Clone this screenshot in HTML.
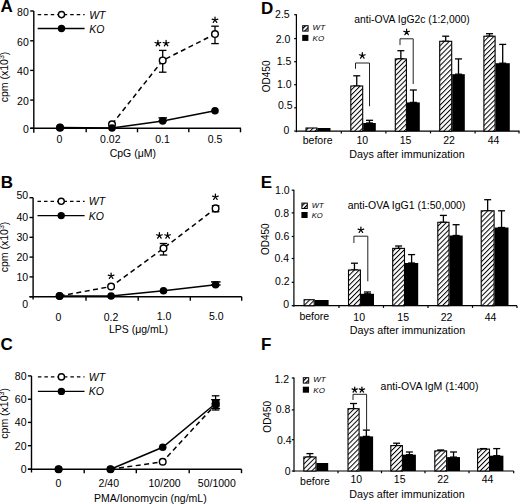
<!DOCTYPE html>
<html><head><meta charset="utf-8"><style>
html,body{margin:0;padding:0;background:#fff;width:520px;height:504px;overflow:hidden}
svg{display:block}
text{font-family:"Liberation Sans", sans-serif;fill:#000}
</style></head><body>
<svg width="520" height="504" viewBox="0 0 520 504">
<defs><pattern id="hatch" patternUnits="userSpaceOnUse" width="3.5" height="3.5" patternTransform="rotate(45)"><rect width="3.5" height="3.5" fill="#fff"/><line x1="0.5" y1="0" x2="0.5" y2="3.5" stroke="#000" stroke-width="1"/></pattern><pattern id="hatch2" patternUnits="userSpaceOnUse" width="3.2" height="3.2" patternTransform="rotate(45)"><rect width="3.2" height="3.2" fill="#fff"/><line x1="0.6" y1="0" x2="0.6" y2="3.2" stroke="#000" stroke-width="1.3"/></pattern></defs>
<rect width="520" height="504" fill="#fff"/>
<text x="0.5" y="12.4" font-size="17" font-weight="bold">A</text>
<line x1="33.8" y1="11" x2="33.8" y2="132.7" stroke="#000" stroke-width="1.4"/>
<line x1="30.2" y1="11" x2="33.8" y2="11" stroke="#000" stroke-width="1.4"/>
<line x1="30.2" y1="40.8" x2="33.8" y2="40.8" stroke="#000" stroke-width="1.4"/>
<line x1="30.2" y1="70.4" x2="33.8" y2="70.4" stroke="#000" stroke-width="1.4"/>
<line x1="30.2" y1="100.1" x2="33.8" y2="100.1" stroke="#000" stroke-width="1.4"/>
<line x1="30.2" y1="128.3" x2="33.8" y2="128.3" stroke="#000" stroke-width="1.4"/>
<text x="28.8" y="16.35" font-size="10.5" text-anchor="end">80</text>
<text x="28.8" y="45.75" font-size="10.5" text-anchor="end">60</text>
<text x="28.8" y="74.95" font-size="10.5" text-anchor="end">40</text>
<text x="28.8" y="105.35" font-size="10.5" text-anchor="end">20</text>
<text x="28.8" y="133.25" font-size="10.5" text-anchor="end">0</text>
<line x1="30.2" y1="128.3" x2="241" y2="128.3" stroke="#000" stroke-width="1.4"/>
<line x1="86.2" y1="128.3" x2="86.2" y2="132.3" stroke="#000" stroke-width="1.4"/>
<line x1="137.5" y1="128.3" x2="137.5" y2="132.3" stroke="#000" stroke-width="1.4"/>
<line x1="188.8" y1="128.3" x2="188.8" y2="132.3" stroke="#000" stroke-width="1.4"/>
<line x1="240.5" y1="128.3" x2="240.5" y2="132.3" stroke="#000" stroke-width="1.4"/>
<text x="59.4" y="143.4" font-size="10.5" text-anchor="middle">0</text>
<text x="110.3" y="143.4" font-size="10.5" text-anchor="middle">0.02</text>
<text x="162.5" y="143.4" font-size="10.5" text-anchor="middle">0.1</text>
<text x="215" y="143.4" font-size="10.5" text-anchor="middle">0.5</text>
<text x="132.8" y="156.9" font-size="10.5" text-anchor="middle">CpG (μM)</text>
<text transform="translate(8,77) rotate(-90)" font-size="10.5" text-anchor="middle">cpm (x10<tspan font-size="7" dy="-4">3</tspan><tspan dy="4">)</tspan></text>
<line x1="37.7" y1="14.6" x2="84.6" y2="14.6" stroke="#000" stroke-width="1.3" stroke-dasharray="3.5,3"/>
<circle cx="61.5" cy="14.6" r="3.1" fill="#fff" stroke="#000" stroke-width="1.4"/>
<text x="89.2" y="19.2" font-size="10.5" font-style="italic">WT</text>
<line x1="37.7" y1="28.5" x2="84.6" y2="28.5" stroke="#000" stroke-width="1.3"/>
<circle cx="61.5" cy="28.5" r="3.7" fill="#000"/>
<text x="89.2" y="33.1" font-size="10.5" font-style="italic">KO</text>
<line x1="162.7" y1="50.4" x2="162.7" y2="72.2" stroke="#000" stroke-width="1.3"/>
<line x1="158.95" y1="50.4" x2="166.45" y2="50.4" stroke="#000" stroke-width="1.3"/>
<line x1="158.95" y1="72.2" x2="166.45" y2="72.2" stroke="#000" stroke-width="1.3"/>
<line x1="215" y1="26.2" x2="215" y2="43.6" stroke="#000" stroke-width="1.3"/>
<line x1="211.25" y1="26.2" x2="218.75" y2="26.2" stroke="#000" stroke-width="1.3"/>
<line x1="211.25" y1="43.6" x2="218.75" y2="43.6" stroke="#000" stroke-width="1.3"/>
<line x1="162.8" y1="117.9" x2="162.8" y2="120.9" stroke="#000" stroke-width="1.5"/>
<line x1="158.55" y1="117.9" x2="167.05" y2="117.9" stroke="#000" stroke-width="1.5"/>
<line x1="158.55" y1="120.9" x2="167.05" y2="120.9" stroke="#000" stroke-width="1.5"/>
<polyline points="112,124.3 162.7,60.4 215,34.1" fill="none" stroke="#000" stroke-width="1.5" stroke-dasharray="5,3.5"/>
<polyline points="60,127.4 112,128 162.7,120.9 215,110.8" fill="none" stroke="#000" stroke-width="1.5"/>
<circle cx="60" cy="127.7" r="3.3" fill="#fff" stroke="#000" stroke-width="1.45"/>
<circle cx="112" cy="124.3" r="3.3" fill="#fff" stroke="#000" stroke-width="1.45"/>
<circle cx="162.7" cy="60.4" r="3.3" fill="#fff" stroke="#000" stroke-width="1.45"/>
<circle cx="215" cy="34.1" r="3.3" fill="#fff" stroke="#000" stroke-width="1.45"/>
<circle cx="60" cy="127.4" r="3.8" fill="#000"/>
<circle cx="112" cy="128" r="3.8" fill="#000"/>
<circle cx="162.7" cy="120.9" r="3.8" fill="#000"/>
<circle cx="215" cy="110.8" r="3.8" fill="#000"/>
<path d="M157.90,43.40L157.90,40.40M157.90,43.40L160.75,42.47M157.90,43.40L159.66,45.83M157.90,43.40L156.14,45.83M157.90,43.40L155.05,42.47" stroke="#000" stroke-width="1.25" stroke-linecap="round" fill="none"/>
<path d="M166.10,43.40L166.10,40.40M166.10,43.40L168.95,42.47M166.10,43.40L167.86,45.83M166.10,43.40L164.34,45.83M166.10,43.40L163.25,42.47" stroke="#000" stroke-width="1.25" stroke-linecap="round" fill="none"/>
<path d="M215.00,20.00L215.00,17.00M215.00,20.00L217.85,19.07M215.00,20.00L216.76,22.43M215.00,20.00L213.24,22.43M215.00,20.00L212.15,19.07" stroke="#000" stroke-width="1.25" stroke-linecap="round" fill="none"/>
<text x="0.7" y="187.9" font-size="17" font-weight="bold">B</text>
<line x1="33.1" y1="197.7" x2="33.1" y2="299.6" stroke="#000" stroke-width="1.4"/>
<line x1="29.5" y1="197.7" x2="33.1" y2="197.7" stroke="#000" stroke-width="1.4"/>
<line x1="29.5" y1="217.5" x2="33.1" y2="217.5" stroke="#000" stroke-width="1.4"/>
<line x1="29.5" y1="237.3" x2="33.1" y2="237.3" stroke="#000" stroke-width="1.4"/>
<line x1="29.5" y1="257.1" x2="33.1" y2="257.1" stroke="#000" stroke-width="1.4"/>
<line x1="29.5" y1="276.9" x2="33.1" y2="276.9" stroke="#000" stroke-width="1.4"/>
<line x1="29.5" y1="296.7" x2="33.1" y2="296.7" stroke="#000" stroke-width="1.4"/>
<text x="28.1" y="199.2" font-size="10.5" text-anchor="end">50</text>
<text x="28.1" y="221.3" font-size="10.5" text-anchor="end">40</text>
<text x="28.1" y="241.1" font-size="10.5" text-anchor="end">30</text>
<text x="28.1" y="260.9" font-size="10.5" text-anchor="end">20</text>
<text x="28.1" y="280.7" font-size="10.5" text-anchor="end">10</text>
<text x="28.1" y="308" font-size="10.5" text-anchor="end">0</text>
<line x1="29.5" y1="296.7" x2="241.7" y2="296.7" stroke="#000" stroke-width="1.4"/>
<line x1="86" y1="296.7" x2="86" y2="300.7" stroke="#000" stroke-width="1.4"/>
<line x1="138.2" y1="296.7" x2="138.2" y2="300.7" stroke="#000" stroke-width="1.4"/>
<line x1="190.3" y1="296.7" x2="190.3" y2="300.7" stroke="#000" stroke-width="1.4"/>
<line x1="241.7" y1="296.7" x2="241.7" y2="300.7" stroke="#000" stroke-width="1.4"/>
<text x="58.5" y="321.3" font-size="10.5" text-anchor="middle">0</text>
<text x="111" y="321" font-size="10.5" text-anchor="middle">0.2</text>
<text x="164" y="319.6" font-size="10.5" text-anchor="middle">1.0</text>
<text x="216.2" y="319.6" font-size="10.5" text-anchor="middle">5.0</text>
<text x="138.5" y="333.1" font-size="10.5" text-anchor="middle">LPS (μg/mL)</text>
<text transform="translate(8,247) rotate(-90)" font-size="10.5" text-anchor="middle">cpm (x10<tspan font-size="7" dy="-4">3</tspan><tspan dy="4">)</tspan></text>
<line x1="37.5" y1="201.3" x2="84.6" y2="201.3" stroke="#000" stroke-width="1.3" stroke-dasharray="3.5,3"/>
<circle cx="61.2" cy="201.3" r="3.1" fill="#fff" stroke="#000" stroke-width="1.4"/>
<text x="88.8" y="205.3" font-size="10.5" font-style="italic">WT</text>
<line x1="37.5" y1="215.6" x2="84.6" y2="215.6" stroke="#000" stroke-width="1.3"/>
<circle cx="61.2" cy="215.6" r="3.7" fill="#000"/>
<text x="88.8" y="219.6" font-size="10.5" font-style="italic">KO</text>
<line x1="163.5" y1="243.5" x2="163.5" y2="255" stroke="#000" stroke-width="1.3"/>
<line x1="159.75" y1="243.5" x2="167.25" y2="243.5" stroke="#000" stroke-width="1.3"/>
<line x1="159.75" y1="255" x2="167.25" y2="255" stroke="#000" stroke-width="1.3"/>
<line x1="215.6" y1="205.7" x2="215.6" y2="211.8" stroke="#000" stroke-width="1.3"/>
<line x1="211.85" y1="205.7" x2="219.35" y2="205.7" stroke="#000" stroke-width="1.3"/>
<line x1="211.85" y1="211.8" x2="219.35" y2="211.8" stroke="#000" stroke-width="1.3"/>
<line x1="215.8" y1="281.9" x2="215.8" y2="285" stroke="#000" stroke-width="1.5"/>
<line x1="211.05" y1="281.9" x2="220.55" y2="281.9" stroke="#000" stroke-width="1.5"/>
<line x1="211.05" y1="285" x2="220.55" y2="285" stroke="#000" stroke-width="1.5"/>
<polyline points="59.6,296 111.1,286.5 163.5,248.3 215.6,208.4" fill="none" stroke="#000" stroke-width="1.5" stroke-dasharray="5,3.5"/>
<polyline points="59.6,296 111.1,296 163.5,290.7 215.6,284.8" fill="none" stroke="#000" stroke-width="1.5"/>
<circle cx="59.6" cy="296" r="3.3" fill="#fff" stroke="#000" stroke-width="1.45"/>
<circle cx="111.1" cy="286.5" r="3.3" fill="#fff" stroke="#000" stroke-width="1.45"/>
<circle cx="163.5" cy="248.3" r="3.3" fill="#fff" stroke="#000" stroke-width="1.45"/>
<circle cx="215.6" cy="208.4" r="3.3" fill="#fff" stroke="#000" stroke-width="1.45"/>
<circle cx="59.6" cy="296" r="3.8" fill="#000"/>
<circle cx="111.1" cy="296" r="3.8" fill="#000"/>
<circle cx="163.5" cy="290.7" r="3.8" fill="#000"/>
<circle cx="215.6" cy="284.8" r="3.8" fill="#000"/>
<path d="M111.10,276.00L111.10,273.00M111.10,276.00L113.95,275.07M111.10,276.00L112.86,278.43M111.10,276.00L109.34,278.43M111.10,276.00L108.25,275.07" stroke="#000" stroke-width="1.25" stroke-linecap="round" fill="none"/>
<path d="M159.40,235.70L159.40,232.70M159.40,235.70L162.25,234.77M159.40,235.70L161.16,238.13M159.40,235.70L157.64,238.13M159.40,235.70L156.55,234.77" stroke="#000" stroke-width="1.25" stroke-linecap="round" fill="none"/>
<path d="M167.60,235.70L167.60,232.70M167.60,235.70L170.45,234.77M167.60,235.70L169.36,238.13M167.60,235.70L165.84,238.13M167.60,235.70L164.75,234.77" stroke="#000" stroke-width="1.25" stroke-linecap="round" fill="none"/>
<path d="M215.40,197.00L215.40,194.00M215.40,197.00L218.25,196.07M215.40,197.00L217.16,199.43M215.40,197.00L213.64,199.43M215.40,197.00L212.55,196.07" stroke="#000" stroke-width="1.25" stroke-linecap="round" fill="none"/>
<text x="0.5" y="350.4" font-size="17" font-weight="bold">C</text>
<line x1="31.5" y1="375.9" x2="31.5" y2="472.5" stroke="#000" stroke-width="1.4"/>
<line x1="27.9" y1="375.9" x2="31.5" y2="375.9" stroke="#000" stroke-width="1.4"/>
<line x1="27.9" y1="399.2" x2="31.5" y2="399.2" stroke="#000" stroke-width="1.4"/>
<line x1="27.9" y1="422.4" x2="31.5" y2="422.4" stroke="#000" stroke-width="1.4"/>
<line x1="27.9" y1="445.7" x2="31.5" y2="445.7" stroke="#000" stroke-width="1.4"/>
<line x1="27.9" y1="469.2" x2="31.5" y2="469.2" stroke="#000" stroke-width="1.4"/>
<text x="26.5" y="379.7" font-size="10.5" text-anchor="end">80</text>
<text x="26.5" y="403" font-size="10.5" text-anchor="end">60</text>
<text x="26.5" y="426.2" font-size="10.5" text-anchor="end">40</text>
<text x="26.5" y="449.5" font-size="10.5" text-anchor="end">20</text>
<text x="26.5" y="472.8" font-size="10.5" text-anchor="end">0</text>
<line x1="27.9" y1="469.2" x2="241.5" y2="469.2" stroke="#000" stroke-width="1.4"/>
<line x1="84.2" y1="469.2" x2="84.2" y2="473.2" stroke="#000" stroke-width="1.4"/>
<line x1="136.3" y1="469.2" x2="136.3" y2="473.2" stroke="#000" stroke-width="1.4"/>
<line x1="189.2" y1="469.2" x2="189.2" y2="473.2" stroke="#000" stroke-width="1.4"/>
<line x1="241.5" y1="469.2" x2="241.5" y2="473.2" stroke="#000" stroke-width="1.4"/>
<text x="58.5" y="487" font-size="10.5" text-anchor="middle">0</text>
<text x="108.8" y="487" font-size="10.5" text-anchor="middle">2/40</text>
<text x="164.6" y="487" font-size="10.5" text-anchor="middle">10/200</text>
<text x="216.8" y="487" font-size="10.5" text-anchor="middle">50/1000</text>
<text x="150.4" y="501.8" font-size="10.5" text-anchor="middle">PMA/Ionomycin (ng/mL)</text>
<text transform="translate(8,413.4) rotate(-90)" font-size="10.5" text-anchor="middle">cpm (x10<tspan font-size="7" dy="-4">3</tspan><tspan dy="4">)</tspan></text>
<line x1="37.9" y1="376.9" x2="84.5" y2="376.9" stroke="#000" stroke-width="1.3" stroke-dasharray="3.5,3"/>
<circle cx="61.4" cy="376.9" r="3.1" fill="#fff" stroke="#000" stroke-width="1.4"/>
<text x="88.8" y="380.5" font-size="10.5" font-style="italic">WT</text>
<line x1="37.9" y1="391.4" x2="84.5" y2="391.4" stroke="#000" stroke-width="1.3"/>
<circle cx="61.4" cy="391.4" r="3.7" fill="#000"/>
<text x="88.8" y="395" font-size="10.5" font-style="italic">KO</text>
<line x1="215.6" y1="395.8" x2="215.6" y2="410" stroke="#000" stroke-width="1.3"/>
<line x1="211.85" y1="395.8" x2="219.35" y2="395.8" stroke="#000" stroke-width="1.3"/>
<line x1="211.85" y1="410" x2="219.35" y2="410" stroke="#000" stroke-width="1.3"/>
<polyline points="110.5,469.3 162.7,447.3 215.6,403.5" fill="none" stroke="#000" stroke-width="1.5"/>
<polyline points="110.5,469.3 162.7,461.7 215.6,404.5" fill="none" stroke="#000" stroke-width="1.5" stroke-dasharray="5,3.5"/>
<circle cx="58.6" cy="469.3" r="3.3" fill="#fff" stroke="#000" stroke-width="1.45"/>
<circle cx="110.5" cy="469.3" r="3.3" fill="#fff" stroke="#000" stroke-width="1.45"/>
<circle cx="162.7" cy="461.7" r="3.3" fill="#fff" stroke="#000" stroke-width="1.45"/>
<circle cx="215.6" cy="404.5" r="3.3" fill="#fff" stroke="#000" stroke-width="1.45"/>
<circle cx="58.6" cy="469.3" r="3.8" fill="#000"/>
<circle cx="110.5" cy="469.3" r="3.8" fill="#000"/>
<circle cx="162.7" cy="447.3" r="3.8" fill="#000"/>
<circle cx="215.6" cy="403.5" r="3.8" fill="#000"/>
<rect x="211.9" y="399.8" width="7.6" height="7.6" fill="#000"/>
<line x1="211.1" y1="399.6" x2="220.1" y2="399.6" stroke="#000" stroke-width="1.2"/>
<line x1="211.1" y1="408.6" x2="220.1" y2="408.6" stroke="#000" stroke-width="1.2"/>
<text x="261.1" y="14.3" font-size="17" font-weight="bold">D</text>
<line x1="296.4" y1="14.2" x2="296.4" y2="132.2" stroke="#000" stroke-width="1.2"/>
<line x1="294.2" y1="14.7" x2="296.4" y2="14.7" stroke="#000" stroke-width="1.2"/>
<line x1="294.2" y1="38.6" x2="296.4" y2="38.6" stroke="#000" stroke-width="1.2"/>
<line x1="294.2" y1="61.7" x2="296.4" y2="61.7" stroke="#000" stroke-width="1.2"/>
<line x1="294.2" y1="84.7" x2="296.4" y2="84.7" stroke="#000" stroke-width="1.2"/>
<line x1="294.2" y1="107.8" x2="296.4" y2="107.8" stroke="#000" stroke-width="1.2"/>
<line x1="294.2" y1="131.1" x2="296.4" y2="131.1" stroke="#000" stroke-width="1.2"/>
<text x="289.7" y="18.1" font-size="10.5" text-anchor="end">2.5</text>
<text x="290.4" y="42.5" font-size="10.5" text-anchor="end">2.0</text>
<text x="291.3" y="65.2" font-size="10.5" text-anchor="end">1.5</text>
<text x="291.6" y="88.1" font-size="10.5" text-anchor="end">1.0</text>
<text x="292.6" y="108.8" font-size="10.5" text-anchor="end">0.5</text>
<text x="289.4" y="134.4" font-size="10.5" text-anchor="end">0</text>
<line x1="296.4" y1="131.2" x2="519.6" y2="131.2" stroke="#000" stroke-width="1.2"/>
<line x1="341.3" y1="131.2" x2="341.3" y2="133.4" stroke="#000" stroke-width="1.2"/>
<line x1="385.9" y1="131.2" x2="385.9" y2="133.4" stroke="#000" stroke-width="1.2"/>
<line x1="430.5" y1="131.2" x2="430.5" y2="133.4" stroke="#000" stroke-width="1.2"/>
<line x1="475.1" y1="131.2" x2="475.1" y2="133.4" stroke="#000" stroke-width="1.2"/>
<line x1="519" y1="131.2" x2="519" y2="133.4" stroke="#000" stroke-width="1.2"/>
<text x="317.6" y="144.4" font-size="10.5" text-anchor="middle">before</text>
<text x="362.3" y="143.6" font-size="10.5" text-anchor="middle">10</text>
<text x="405.6" y="143.6" font-size="10.5" text-anchor="middle">15</text>
<text x="449" y="143.6" font-size="10.5" text-anchor="middle">22</text>
<text x="493.5" y="143.6" font-size="10.5" text-anchor="middle">44</text>
<text x="407" y="158" font-size="10.75" text-anchor="middle">Days after immunization</text>
<text transform="translate(269.5,76.4) rotate(-90)" font-size="10" text-anchor="middle">OD450</text>
<text x="354.3" y="23.2" font-size="10.35">anti-OVA IgG2c (1:2,000)</text>
<rect x="302.7" y="25.7" width="5.4" height="5.4" fill="url(#hatch2)" stroke="#000" stroke-width="1"/>
<rect x="302.2" y="34.9" width="6.2" height="6" fill="#000"/>
<text x="312.6" y="30.42" font-size="8" font-style="italic">WT</text>
<text x="312.6" y="40.82" font-size="8" font-style="italic">KO</text>
<rect x="306.0" y="128" width="11.0" height="3.1999999999999886" fill="url(#hatch)" stroke="#000" stroke-width="1.1"/>
<rect x="317.5" y="128" width="13.0" height="3.1999999999999886" fill="#000"/>
<line x1="356.75" y1="75.8" x2="356.75" y2="86" stroke="#000" stroke-width="1.3"/>
<line x1="353.25" y1="75.8" x2="360.25" y2="75.8" stroke="#000" stroke-width="1.3"/>
<line x1="353.25" y1="86" x2="360.25" y2="86" stroke="#000" stroke-width="1.3"/>
<line x1="369.5" y1="120.3" x2="369.5" y2="123" stroke="#000" stroke-width="1.3"/>
<line x1="366" y1="120.3" x2="373" y2="120.3" stroke="#000" stroke-width="1.3"/>
<line x1="366" y1="123" x2="373" y2="123" stroke="#000" stroke-width="1.3"/>
<rect x="350.8" y="86" width="11.899999999999977" height="45.19999999999999" fill="url(#hatch)" stroke="#000" stroke-width="1.1"/>
<rect x="363.2" y="123" width="12.600000000000023" height="8.199999999999989" fill="#000"/>
<line x1="400.85" y1="50.7" x2="400.85" y2="58.9" stroke="#000" stroke-width="1.3"/>
<line x1="397.35" y1="50.7" x2="404.35" y2="50.7" stroke="#000" stroke-width="1.3"/>
<line x1="397.35" y1="58.9" x2="404.35" y2="58.9" stroke="#000" stroke-width="1.3"/>
<line x1="413.35" y1="90" x2="413.35" y2="102.4" stroke="#000" stroke-width="1.3"/>
<line x1="409.85" y1="90" x2="416.85" y2="90" stroke="#000" stroke-width="1.3"/>
<line x1="409.85" y1="102.4" x2="416.85" y2="102.4" stroke="#000" stroke-width="1.3"/>
<rect x="395.3" y="58.9" width="11.099999999999966" height="72.29999999999998" fill="url(#hatch)" stroke="#000" stroke-width="1.1"/>
<rect x="406.9" y="102.4" width="12.900000000000034" height="28.799999999999983" fill="#000"/>
<line x1="445.7" y1="36.2" x2="445.7" y2="41.3" stroke="#000" stroke-width="1.3"/>
<line x1="442.2" y1="36.2" x2="449.2" y2="36.2" stroke="#000" stroke-width="1.3"/>
<line x1="442.2" y1="41.3" x2="449.2" y2="41.3" stroke="#000" stroke-width="1.3"/>
<line x1="458.5" y1="58.9" x2="458.5" y2="74.2" stroke="#000" stroke-width="1.3"/>
<line x1="455" y1="58.9" x2="462" y2="58.9" stroke="#000" stroke-width="1.3"/>
<line x1="455" y1="74.2" x2="462" y2="74.2" stroke="#000" stroke-width="1.3"/>
<rect x="439.7" y="41.3" width="12.0" height="89.89999999999999" fill="url(#hatch)" stroke="#000" stroke-width="1.1"/>
<rect x="452.2" y="74.2" width="12.600000000000023" height="56.999999999999986" fill="#000"/>
<line x1="489.5" y1="33.7" x2="489.5" y2="36.2" stroke="#000" stroke-width="1.3"/>
<line x1="486" y1="33.7" x2="493" y2="33.7" stroke="#000" stroke-width="1.3"/>
<line x1="486" y1="36.2" x2="493" y2="36.2" stroke="#000" stroke-width="1.3"/>
<line x1="502.7" y1="44.4" x2="502.7" y2="63.2" stroke="#000" stroke-width="1.3"/>
<line x1="499.2" y1="44.4" x2="506.2" y2="44.4" stroke="#000" stroke-width="1.3"/>
<line x1="499.2" y1="63.2" x2="506.2" y2="63.2" stroke="#000" stroke-width="1.3"/>
<rect x="483.9" y="36.2" width="11.200000000000045" height="94.99999999999999" fill="url(#hatch)" stroke="#000" stroke-width="1.1"/>
<rect x="495.6" y="63.2" width="14.199999999999989" height="67.99999999999999" fill="#000"/>
<polyline points="355.5,68.8 355.5,63 369.5,63 369.5,106.3" fill="none" stroke="#222" stroke-width="1"/>
<path d="M362.30,55.70L362.30,52.70M362.30,55.70L365.15,54.77M362.30,55.70L364.06,58.13M362.30,55.70L360.54,58.13M362.30,55.70L359.45,54.77" stroke="#000" stroke-width="1.25" stroke-linecap="round" fill="none"/>
<polyline points="400,45 400,38.8 413.2,38.8 413.2,84" fill="none" stroke="#222" stroke-width="1"/>
<path d="M406.60,32.20L406.60,29.20M406.60,32.20L409.45,31.27M406.60,32.20L408.36,34.63M406.60,32.20L404.84,34.63M406.60,32.20L403.75,31.27" stroke="#000" stroke-width="1.25" stroke-linecap="round" fill="none"/>
<text x="260.8" y="187.9" font-size="17" font-weight="bold">E</text>
<line x1="293.9" y1="189.7" x2="293.9" y2="306.7" stroke="#000" stroke-width="1.2"/>
<line x1="291.7" y1="190.2" x2="293.9" y2="190.2" stroke="#000" stroke-width="1.2"/>
<line x1="291.7" y1="212.9" x2="293.9" y2="212.9" stroke="#000" stroke-width="1.2"/>
<line x1="291.7" y1="236.5" x2="293.9" y2="236.5" stroke="#000" stroke-width="1.2"/>
<line x1="291.7" y1="258.5" x2="293.9" y2="258.5" stroke="#000" stroke-width="1.2"/>
<line x1="291.7" y1="282.3" x2="293.9" y2="282.3" stroke="#000" stroke-width="1.2"/>
<line x1="291.7" y1="305.7" x2="293.9" y2="305.7" stroke="#000" stroke-width="1.2"/>
<text x="289.7" y="194.1" font-size="10.5" text-anchor="end">1.0</text>
<text x="289.1" y="216.7" font-size="10.5" text-anchor="end">0.8</text>
<text x="289.4" y="239.8" font-size="10.5" text-anchor="end">0.6</text>
<text x="289.1" y="262" font-size="10.5" text-anchor="end">0.4</text>
<text x="289.7" y="285.1" font-size="10.5" text-anchor="end">0.2</text>
<text x="289.1" y="307.6" font-size="10.5" text-anchor="end">0</text>
<line x1="293.9" y1="305.7" x2="517" y2="305.7" stroke="#000" stroke-width="1.2"/>
<line x1="339" y1="305.7" x2="339" y2="307.9" stroke="#000" stroke-width="1.2"/>
<line x1="383.5" y1="305.7" x2="383.5" y2="307.9" stroke="#000" stroke-width="1.2"/>
<line x1="428" y1="305.7" x2="428" y2="307.9" stroke="#000" stroke-width="1.2"/>
<line x1="472.5" y1="305.7" x2="472.5" y2="307.9" stroke="#000" stroke-width="1.2"/>
<line x1="517" y1="305.7" x2="517" y2="307.9" stroke="#000" stroke-width="1.2"/>
<text x="314.3" y="320.4" font-size="10.5" text-anchor="middle">before</text>
<text x="359.2" y="321.2" font-size="10.5" text-anchor="middle">10</text>
<text x="403.2" y="321.2" font-size="10.5" text-anchor="middle">15</text>
<text x="446.5" y="321.2" font-size="10.5" text-anchor="middle">22</text>
<text x="490.6" y="321.2" font-size="10.5" text-anchor="middle">44</text>
<text x="407.5" y="333.8" font-size="10.75" text-anchor="middle">Days after immunization</text>
<text transform="translate(269.3,239.2) rotate(-90)" font-size="10" text-anchor="middle">OD450</text>
<text x="347.7" y="208.7" font-size="10.5">anti-OVA IgG1 (1:50,000)</text>
<rect x="301.9" y="203.1" width="5.4" height="5.4" fill="url(#hatch2)" stroke="#000" stroke-width="1"/>
<rect x="301.4" y="212" width="6.2" height="6" fill="#000"/>
<text x="311.8" y="207.67" font-size="7.6" font-style="italic">WT</text>
<text x="311.8" y="217.77" font-size="7.6" font-style="italic">KO</text>
<rect x="304.1" y="299.7" width="10.099999999999966" height="6.0" fill="url(#hatch)" stroke="#000" stroke-width="1.1"/>
<rect x="314.7" y="300" width="13.900000000000034" height="5.699999999999989" fill="#000"/>
<line x1="354.45" y1="263.2" x2="354.45" y2="270" stroke="#000" stroke-width="1.3"/>
<line x1="350.95" y1="263.2" x2="357.95" y2="263.2" stroke="#000" stroke-width="1.3"/>
<line x1="350.95" y1="270" x2="357.95" y2="270" stroke="#000" stroke-width="1.3"/>
<line x1="367.45" y1="292" x2="367.45" y2="293.8" stroke="#000" stroke-width="1.3"/>
<line x1="363.95" y1="292" x2="370.95" y2="292" stroke="#000" stroke-width="1.3"/>
<line x1="363.95" y1="293.8" x2="370.95" y2="293.8" stroke="#000" stroke-width="1.3"/>
<rect x="348.5" y="270" width="11.899999999999977" height="35.69999999999999" fill="url(#hatch)" stroke="#000" stroke-width="1.1"/>
<rect x="360.9" y="293.8" width="13.100000000000023" height="11.899999999999977" fill="#000"/>
<line x1="398.6" y1="246" x2="398.6" y2="248.4" stroke="#000" stroke-width="1.3"/>
<line x1="395.1" y1="246" x2="402.1" y2="246" stroke="#000" stroke-width="1.3"/>
<line x1="395.1" y1="248.4" x2="402.1" y2="248.4" stroke="#000" stroke-width="1.3"/>
<line x1="411.6" y1="254.6" x2="411.6" y2="263" stroke="#000" stroke-width="1.3"/>
<line x1="408.1" y1="254.6" x2="415.1" y2="254.6" stroke="#000" stroke-width="1.3"/>
<line x1="408.1" y1="263" x2="415.1" y2="263" stroke="#000" stroke-width="1.3"/>
<rect x="392.7" y="248.4" width="11.800000000000011" height="57.29999999999998" fill="url(#hatch)" stroke="#000" stroke-width="1.1"/>
<rect x="405" y="263" width="13.199999999999989" height="42.69999999999999" fill="#000"/>
<line x1="443.4" y1="215.4" x2="443.4" y2="222.3" stroke="#000" stroke-width="1.3"/>
<line x1="439.9" y1="215.4" x2="446.9" y2="215.4" stroke="#000" stroke-width="1.3"/>
<line x1="439.9" y1="222.3" x2="446.9" y2="222.3" stroke="#000" stroke-width="1.3"/>
<line x1="456.1" y1="224.7" x2="456.1" y2="235.5" stroke="#000" stroke-width="1.3"/>
<line x1="452.6" y1="224.7" x2="459.6" y2="224.7" stroke="#000" stroke-width="1.3"/>
<line x1="452.6" y1="235.5" x2="459.6" y2="235.5" stroke="#000" stroke-width="1.3"/>
<rect x="437.8" y="222.3" width="11.199999999999989" height="83.39999999999998" fill="url(#hatch)" stroke="#000" stroke-width="1.1"/>
<rect x="449.5" y="235.5" width="13.199999999999989" height="70.19999999999999" fill="#000"/>
<line x1="487.65" y1="199.7" x2="487.65" y2="210.8" stroke="#000" stroke-width="1.3"/>
<line x1="484.15" y1="199.7" x2="491.15" y2="199.7" stroke="#000" stroke-width="1.3"/>
<line x1="484.15" y1="210.8" x2="491.15" y2="210.8" stroke="#000" stroke-width="1.3"/>
<line x1="501.55" y1="210.8" x2="501.55" y2="227.5" stroke="#000" stroke-width="1.3"/>
<line x1="498.05" y1="210.8" x2="505.05" y2="210.8" stroke="#000" stroke-width="1.3"/>
<line x1="498.05" y1="227.5" x2="505.05" y2="227.5" stroke="#000" stroke-width="1.3"/>
<rect x="481.2" y="210.8" width="12.900000000000034" height="94.89999999999998" fill="url(#hatch)" stroke="#000" stroke-width="1.1"/>
<rect x="494.6" y="227.5" width="13.899999999999977" height="78.19999999999999" fill="#000"/>
<polyline points="353.9,243 353.9,236.2 367.8,236.2 367.8,281.3" fill="none" stroke="#222" stroke-width="1"/>
<path d="M360.90,230.00L360.90,227.00M360.90,230.00L363.75,229.07M360.90,230.00L362.66,232.43M360.90,230.00L359.14,232.43M360.90,230.00L358.05,229.07" stroke="#000" stroke-width="1.25" stroke-linecap="round" fill="none"/>
<text x="261.1" y="349.9" font-size="17" font-weight="bold">F</text>
<line x1="294" y1="377.5" x2="294" y2="472" stroke="#000" stroke-width="1.2"/>
<line x1="291.8" y1="378" x2="294" y2="378" stroke="#000" stroke-width="1.2"/>
<line x1="291.8" y1="409.9" x2="294" y2="409.9" stroke="#000" stroke-width="1.2"/>
<line x1="291.8" y1="439.7" x2="294" y2="439.7" stroke="#000" stroke-width="1.2"/>
<line x1="291.8" y1="471" x2="294" y2="471" stroke="#000" stroke-width="1.2"/>
<text x="289.1" y="383.1" font-size="10.5" text-anchor="end">1.2</text>
<text x="290.4" y="413.3" font-size="10.5" text-anchor="end">0.8</text>
<text x="291.6" y="443.7" font-size="10.5" text-anchor="end">0.4</text>
<text x="290.7" y="474.6" font-size="10.5" text-anchor="end">0</text>
<line x1="294" y1="471" x2="513.7" y2="471" stroke="#000" stroke-width="1.2"/>
<line x1="338" y1="471" x2="338" y2="473.2" stroke="#000" stroke-width="1.2"/>
<line x1="381.5" y1="471" x2="381.5" y2="473.2" stroke="#000" stroke-width="1.2"/>
<line x1="425" y1="471" x2="425" y2="473.2" stroke="#000" stroke-width="1.2"/>
<line x1="469" y1="471" x2="469" y2="473.2" stroke="#000" stroke-width="1.2"/>
<line x1="513.7" y1="471" x2="513.7" y2="473.2" stroke="#000" stroke-width="1.2"/>
<text x="315" y="484.6" font-size="10.5" text-anchor="middle">before</text>
<text x="356.3" y="483.1" font-size="10.5" text-anchor="middle">10</text>
<text x="399.7" y="483.1" font-size="10.5" text-anchor="middle">15</text>
<text x="443" y="483.1" font-size="10.5" text-anchor="middle">22</text>
<text x="487.6" y="483.1" font-size="10.5" text-anchor="middle">44</text>
<text x="407" y="497.5" font-size="10.75" text-anchor="middle">Days after immunization</text>
<text transform="translate(270.8,416.8) rotate(-90)" font-size="10" text-anchor="middle">OD450</text>
<text x="380.6" y="390.4" font-size="10.5">anti-OVA IgM (1:400)</text>
<rect x="303.3" y="377.7" width="5.4" height="5.4" fill="url(#hatch2)" stroke="#000" stroke-width="1"/>
<rect x="302.8" y="386.7" width="6.2" height="6" fill="#000"/>
<text x="313.3" y="382.42" font-size="8" font-style="italic">WT</text>
<text x="313.3" y="392.62" font-size="8" font-style="italic">KO</text>
<line x1="309.9" y1="453.6" x2="309.9" y2="457" stroke="#000" stroke-width="1.3"/>
<line x1="306.4" y1="453.6" x2="313.4" y2="453.6" stroke="#000" stroke-width="1.3"/>
<line x1="306.4" y1="457" x2="313.4" y2="457" stroke="#000" stroke-width="1.3"/>
<rect x="303.8" y="457" width="12.199999999999989" height="14" fill="url(#hatch)" stroke="#000" stroke-width="1.1"/>
<rect x="316.5" y="463" width="11.699999999999989" height="8" fill="#000"/>
<line x1="353.55" y1="403.5" x2="353.55" y2="408.7" stroke="#000" stroke-width="1.3"/>
<line x1="350.05" y1="403.5" x2="357.05" y2="403.5" stroke="#000" stroke-width="1.3"/>
<line x1="350.05" y1="408.7" x2="357.05" y2="408.7" stroke="#000" stroke-width="1.3"/>
<line x1="366.35" y1="430.1" x2="366.35" y2="436.4" stroke="#000" stroke-width="1.3"/>
<line x1="362.85" y1="430.1" x2="369.85" y2="430.1" stroke="#000" stroke-width="1.3"/>
<line x1="362.85" y1="436.4" x2="369.85" y2="436.4" stroke="#000" stroke-width="1.3"/>
<rect x="348.0" y="408.7" width="11.100000000000023" height="62.30000000000001" fill="url(#hatch)" stroke="#000" stroke-width="1.1"/>
<rect x="359.6" y="436.4" width="13.5" height="34.60000000000002" fill="#000"/>
<line x1="396.6" y1="443.2" x2="396.6" y2="445.6" stroke="#000" stroke-width="1.3"/>
<line x1="393.1" y1="443.2" x2="400.1" y2="443.2" stroke="#000" stroke-width="1.3"/>
<line x1="393.1" y1="445.6" x2="400.1" y2="445.6" stroke="#000" stroke-width="1.3"/>
<line x1="409.4" y1="452" x2="409.4" y2="454.7" stroke="#000" stroke-width="1.3"/>
<line x1="405.9" y1="452" x2="412.9" y2="452" stroke="#000" stroke-width="1.3"/>
<line x1="405.9" y1="454.7" x2="412.9" y2="454.7" stroke="#000" stroke-width="1.3"/>
<rect x="390.8" y="445.6" width="11.599999999999966" height="25.399999999999977" fill="url(#hatch)" stroke="#000" stroke-width="1.1"/>
<rect x="402.9" y="454.7" width="13.0" height="16.30000000000001" fill="#000"/>
<line x1="440.7" y1="450" x2="440.7" y2="450.9" stroke="#000" stroke-width="1.3"/>
<line x1="437.2" y1="450" x2="444.2" y2="450" stroke="#000" stroke-width="1.3"/>
<line x1="437.2" y1="450.9" x2="444.2" y2="450.9" stroke="#000" stroke-width="1.3"/>
<line x1="453.55" y1="452" x2="453.55" y2="457.1" stroke="#000" stroke-width="1.3"/>
<line x1="450.05" y1="452" x2="457.05" y2="452" stroke="#000" stroke-width="1.3"/>
<line x1="450.05" y1="457.1" x2="457.05" y2="457.1" stroke="#000" stroke-width="1.3"/>
<rect x="434.8" y="450.9" width="11.800000000000011" height="20.100000000000023" fill="url(#hatch)" stroke="#000" stroke-width="1.1"/>
<rect x="447.1" y="457.1" width="12.899999999999977" height="13.899999999999977" fill="#000"/>
<line x1="483.55" y1="448.6" x2="483.55" y2="449.1" stroke="#000" stroke-width="1.3"/>
<line x1="480.05" y1="448.6" x2="487.05" y2="448.6" stroke="#000" stroke-width="1.3"/>
<line x1="480.05" y1="449.1" x2="487.05" y2="449.1" stroke="#000" stroke-width="1.3"/>
<line x1="496.7" y1="448.6" x2="496.7" y2="455.7" stroke="#000" stroke-width="1.3"/>
<line x1="493.2" y1="448.6" x2="500.2" y2="448.6" stroke="#000" stroke-width="1.3"/>
<line x1="493.2" y1="455.7" x2="500.2" y2="455.7" stroke="#000" stroke-width="1.3"/>
<rect x="477.6" y="449.1" width="11.899999999999977" height="21.899999999999977" fill="url(#hatch)" stroke="#000" stroke-width="1.1"/>
<rect x="490" y="455.7" width="13.399999999999977" height="15.300000000000011" fill="#000"/>
<polyline points="353,400 353,394.3 366.6,394.3 366.6,430.3" fill="none" stroke="#222" stroke-width="1"/>
<path d="M354.70,389.80L354.70,387.00M354.70,389.80L357.36,388.93M354.70,389.80L356.35,392.07M354.70,389.80L353.05,392.07M354.70,389.80L352.04,388.93" stroke="#000" stroke-width="1.25" stroke-linecap="round" fill="none"/>
<path d="M361.90,389.80L361.90,387.00M361.90,389.80L364.56,388.93M361.90,389.80L363.55,392.07M361.90,389.80L360.25,392.07M361.90,389.80L359.24,388.93" stroke="#000" stroke-width="1.25" stroke-linecap="round" fill="none"/>
</svg></body></html>
